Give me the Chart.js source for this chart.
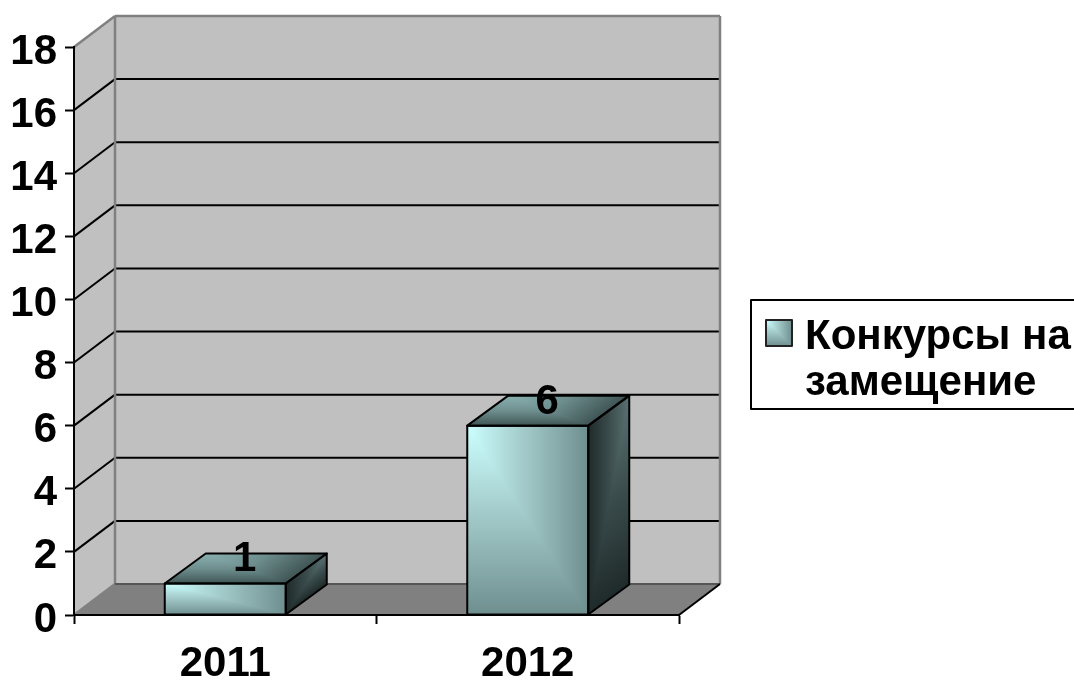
<!DOCTYPE html>
<html>
<head>
<meta charset="utf-8">
<title>Конкурсы на замещение</title>
<script src="https://cdn.jsdelivr.net/npm/chart.js@4/dist/chart.umd.min.js"></script>
<style>
body{margin:0;background:#fff;}
canvas{display:block;}
</style>
</head>
<body>
<canvas id="chart" width="1074" height="680"></canvas>
<script>
const years = ["2011","2012"];
const contests = [1,6];
const legendLines = ["Конкурсы на","замещение"];
const yMax = 18;
const yStep = 2;

const fontFamily = '"Liberation Sans", Arial, sans-serif';
const axisFontSize = 42;

/* depth of the fake 3d box */
const depthX = 41;
const depthY = 31;
const barDepthX = 41;
const barDepthY = 30;

/* colour ramps for the "from corner" shading */
const frontShade = ["#ccffff","#a0c6c6","#6f8f8f"];
const topShade = ["#8ab0b0","#6f8f8f","#405555"];
const sideShade = ["#5a7272","#3a4b4b","#1f2a2a"];

function line(ctx,x1,y1,x2,y2,color,width){
ctx.strokeStyle = color;
ctx.lineWidth = width;
ctx.beginPath();
ctx.moveTo(x1,y1);
ctx.lineTo(x2,y2);
ctx.stroke();
}

function ramp(ctx,x2,y2,colors){
let g = ctx.createLinearGradient(0,0,x2,y2);
g.addColorStop(0,colors[0]);
g.addColorStop(0.5,colors[1]);
g.addColorStop(1,colors[2]);
return g;
}

/* fill a parallelogram, unit square mapped through origin + u + v */
function shadeFace(ctx,ox,oy,ux,uy,vx,vy,shade){
ctx.save();
ctx.transform(ux,uy,vx,vy,ox,oy);

ctx.fillStyle = ramp(ctx,1,0,shade);
ctx.fillRect(0,0,1,1);

ctx.fillStyle = ramp(ctx,0,1,shade);
ctx.beginPath();
ctx.moveTo(0,0);
ctx.lineTo(0,1);
ctx.lineTo(1,1);
ctx.closePath();
ctx.fill();

ctx.restore();
}

function outline(ctx,points){
ctx.strokeStyle = "#000";
ctx.lineWidth = 2;
ctx.lineJoin = "round";
ctx.beginPath();
points.forEach((p,i) => {
if(i === 0){
ctx.moveTo(p[0],p[1]);
}else{
ctx.lineTo(p[0],p[1]);
}
});
ctx.closePath();
ctx.stroke();
}

const box3d = {
id:"box3d",

/* WALLS AND FLOOR */
beforeDraw(chart){
let ctx = chart.ctx;
let area = chart.chartArea;
let yScale = chart.scales.y;
let left = area.left, right = area.right, top = area.top, bottom = area.bottom;

ctx.save();

ctx.fillStyle = "#c0c0c0";
ctx.fillRect(left+depthX,top-depthY,right-left,bottom-top);

ctx.beginPath();
ctx.moveTo(left,top);
ctx.lineTo(left+depthX,top-depthY);
ctx.lineTo(left+depthX,bottom-depthY);
ctx.lineTo(left,bottom);
ctx.closePath();
ctx.fill();

ctx.fillStyle = "#808080";
ctx.beginPath();
ctx.moveTo(left,bottom);
ctx.lineTo(left+depthX,bottom-depthY);
ctx.lineTo(right+depthX,bottom-depthY);
ctx.lineTo(right,bottom);
ctx.closePath();
ctx.fill();

/* GRID */
for(let v = yStep; v < yMax; v += yStep){
let y = yScale.getPixelForValue(v);
line(ctx,left,y,left+depthX,y-depthY,"#000",2);
line(ctx,left+depthX,y-depthY,right+depthX,y-depthY,"#000",2);
}

/* EDGES */
let edge = "#808080";
line(ctx,left,top,left+depthX,top-depthY,edge,2.5);
line(ctx,left+depthX,top-depthY,right+depthX,top-depthY,edge,2.5);
line(ctx,left+depthX,top-depthY,left+depthX,bottom-depthY,edge,2.5);
line(ctx,right+depthX,top-depthY,right+depthX,bottom-depthY,edge,2.5);
line(ctx,left,bottom,left+depthX,bottom-depthY,edge,2.5);
line(ctx,left+depthX,bottom-depthY,right+depthX,bottom-depthY,"#555",2);
line(ctx,right,bottom,right+depthX,bottom-depthY,"#000",2);

ctx.restore();
},

/* BAR FACES */
afterDatasetsDraw(chart){
let ctx = chart.ctx;
let bars = chart.getDatasetMeta(0).data;

ctx.save();

bars.forEach((bar,i) => {
let x1 = bar.x-bar.width/2;
let x2 = bar.x+bar.width/2;
let y1 = bar.y;
let y2 = bar.base;

shadeFace(ctx,x1,y1,x2-x1,0,0,y2-y1,frontShade);
shadeFace(ctx,x1+barDepthX,y1-barDepthY,x2-x1,0,-barDepthX,barDepthY,topShade);
shadeFace(ctx,x2+barDepthX,y1-barDepthY,-barDepthX,barDepthY,0,y2-y1,sideShade);

outline(ctx,[[x1,y1],[x2,y1],[x2,y2],[x1,y2]]);
outline(ctx,[[x1,y1],[x1+barDepthX,y1-barDepthY],[x2+barDepthX,y1-barDepthY],[x2,y1]]);
outline(ctx,[[x2,y1],[x2+barDepthX,y1-barDepthY],[x2+barDepthX,y2-barDepthY],[x2,y2]]);

/* VALUE LABEL */
ctx.fillStyle = "#000";
ctx.font = "bold "+axisFontSize+"px "+fontFamily;
ctx.textAlign = "center";
ctx.textBaseline = "alphabetic";
ctx.fillText(String(contests[i]),bar.x+barDepthX/2-1,y1-12);
});

/* LEGEND */
ctx.strokeStyle = "#000";
ctx.lineWidth = 2;
ctx.strokeRect(751,300,340,109);

shadeFace(ctx,766,320,26,0,0,26,frontShade);
ctx.strokeStyle = "#222";
ctx.strokeRect(766,320,26,26);

ctx.fillStyle = "#000";
ctx.font = "bold 42px "+fontFamily;
ctx.textAlign = "left";
ctx.textBaseline = "alphabetic";
legendLines.forEach((text,i) => {
ctx.fillText(text,805,349+i*46);
});

ctx.restore();
}
};

function frontGradient(context){
let chart = context.chart;
if(!chart.chartArea){
return frontShade[1];
}
return ramp(chart.ctx,0,chart.chartArea.bottom,frontShade);
}

let ctx = document.getElementById("chart").getContext("2d");

let chart = new Chart(ctx,{
type:"bar",
plugins:[box3d],
data:{
labels:years,
datasets:[{
label:legendLines.join(" "),
data:contests,
backgroundColor:frontGradient,
borderWidth:0,
categoryPercentage:1,
barPercentage:0.4
}]
},
options:{
responsive:false,
animation:false,
layout:{
padding:{top:47,right:395,left:0,bottom:0}
},
plugins:{
legend:{display:false},
tooltip:{enabled:false}
},
scales:{
x:{
afterFit(axis){ axis.height = 65; },
grid:{
offset:true,
drawOnChartArea:false,
drawTicks:true,
tickLength:9,
tickColor:"#000",
tickWidth:2
},
border:{color:"#000",width:2},
ticks:{
color:"#000",
padding:15,
maxRotation:0,
font:{family:fontFamily,size:axisFontSize,weight:"bold"}
}
},
y:{
min:0,
max:yMax,
afterFit(axis){ axis.width = 74; },
grid:{
drawOnChartArea:false,
drawTicks:true,
tickLength:9,
tickColor:"#000",
tickWidth:2
},
border:{color:"#000",width:2},
ticks:{
stepSize:yStep,
color:"#000",
padding:8,
labelOffset:5,
font:{family:fontFamily,size:axisFontSize,weight:"bold"}
}
}
}
}
});
</script>
</body>
</html>
